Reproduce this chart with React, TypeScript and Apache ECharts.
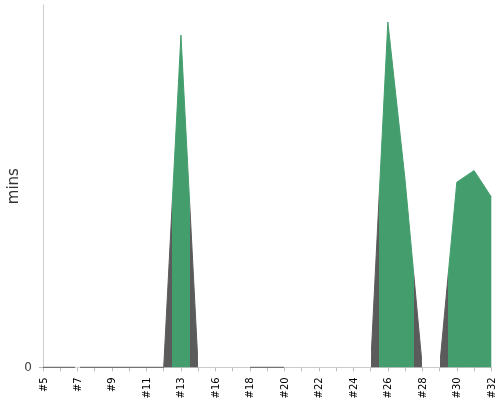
import React, { useEffect, useRef } from "react";
import * as echarts from "echarts";

const categories = [
  "#5", "#6", "#7", "#8", "#9", "#10", "#11", "#12", "#13", "#14",
  "#16", "#17", "#18", "#19", "#20", "#21", "#22", "#23", "#24", "#25",
  "#26", "#27", "#28", "#29", "#30", "#31", "#32",
];

const minsValues = [
  0, 0, 0, 0, 0, 0, 0, 0, 91.7, 0,
  0, 0, 0, 0, 0, 0, 0, 0, 0, 0,
  95.3, 51.7, 0, 0, 51.1, 54.3, 47.0,
];

const GREEN = "#449d6d";
const GREY = "#5b5b5b";

// colour sections along the category index
const sections = [
  { gte: 0, lt: 1.85, color: GREY },
  { gte: 1.85, lt: 2.15, color: "#d8d8d8" },
  { gte: 2.15, lt: 7.5, color: GREY },
  { gte: 7.5, lt: 8.5, color: GREEN },
  { gte: 8.5, lte: 9, color: GREY },
  { gte: 12, lte: 14, color: GREY },
  { gte: 19, lt: 19.5, color: GREY },
  { gte: 19.5, lt: 21.5, color: GREEN },
  { gte: 21.5, lte: 22, color: GREY },
  { gte: 23, lt: 23.5, color: GREY },
  { gte: 23.5, lte: 27, color: GREEN },
];

const yTickValues = [0];

export default function App() {
  const ref = useRef<HTMLDivElement>(null);
  useEffect(() => {
    if (!ref.current) return;
    const chart = echarts.init(ref.current, null, { renderer: "svg" });
    const allIdx = categories.map((_, i) => i);
    const labelIdx = allIdx.filter((i) => i % 2 === 0);
    chart.setOption({
      animation: false,
      textStyle: { fontFamily: "DejaVu Sans" },
      grid: {
        left: 43,
        right: 8.7,
        top: 5,
        bottom: 32.7,
        containLabel: false,
        outerBoundsMode: "none",
      },
      visualMap: {
        type: "piecewise",
        show: false,
        dimension: 0,
        seriesIndex: 0,
        pieces: sections,
        outOfRange: { color: "rgba(255,255,255,0)" },
      },
      xAxis: {
        type: "value",
        min: 0,
        max: categories.length - 1,
        interval: 1,
        offset: 5,
        axisLine: { show: true, lineStyle: { color: "#cccccc", width: 1 } },
        axisTick: {
          show: true,
          length: 4,
          customValues: allIdx,
          lineStyle: { color: "#bbbbbb" },
        },
        axisLabel: {
          customValues: labelIdx,
          formatter: (v: number) => categories[Math.round(v)] ?? "",
          rotate: 90,
          margin: 5,
          fontSize: 10,
          color: "#000",
          fontFamily: "DejaVu Sans",
        },
        splitLine: { show: false },
      },
      yAxis: {
        type: "value",
        min: 0,
        max: 100,
        offset: 3,
        name: "mins",
        nameLocation: "middle",
        nameGap: 20,
        nameMoveOverlap: false,
        nameTextStyle: { fontSize: 15, color: "#333", fontFamily: "DejaVu Sans" },
        axisLine: { show: true, lineStyle: { color: "#cccccc", width: 1 } },
        axisTick: {
          show: true,
          length: 4,
          customValues: yTickValues,
          lineStyle: { color: "#bbbbbb" },
        },
        axisLabel: {
          customValues: yTickValues,
          fontSize: 12,
          color: "#444",
          margin: 8,
          fontFamily: "DejaVu Sans",
        },
        splitLine: { show: false },
      },
      series: [
        {
          type: "line",
          data: minsValues.map((v, i) => [i, v]),
          showSymbol: false,
          symbol: "none",
          clip: false,
          lineStyle: { width: 1 },
          areaStyle: { opacity: 1 },
        },
      ],
    });
    return () => chart.dispose();
  }, []);
  return (
    <div
      ref={ref}
      style={{ position: "fixed", left: 0, top: 0, width: 500, height: 400 }}
    />
  );
}
